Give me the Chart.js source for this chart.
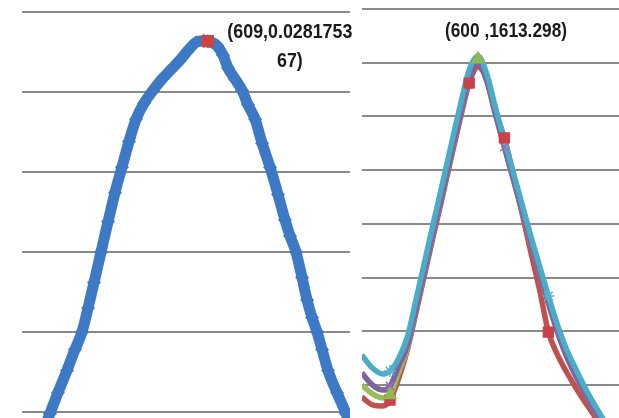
<!DOCTYPE html>
<html>
<head>
<meta charset="utf-8">
<script src="https://cdn.jsdelivr.net/npm/chart.js@4.4.1/dist/chart.umd.min.js"></script>
<style>
html,body{margin:0;background:#fff}
#wrap{position:relative;width:619px;height:418px;overflow:hidden;background:#fff}
canvas{position:absolute;top:0}
#left{left:0}
#right{left:355px}
</style>
</head>
<body>
<div id="wrap">
<canvas id="left" width="355" height="418"></canvas>
<canvas id="right" width="264" height="418"></canvas>
</div>
<script>
// left panel: single measured curve
const blueX=[504.7,507.9,513.0,518.8,523.9,528.4,532.3,536.1,540.6,545.1,549.5,554.0,558.5,563.0,568.1,573.9,579.6,585.4,591.2,596.3,601.4,606.5,609,614.8,618.7,621.9,626.4,630.9,634.7,639.2,643.7,648.8,653.9,658.4,661.6,665.4,669.3,672.5,675.7,678.9,682.1,685.9,691.7,697.4,700.0];
const blueY=[0.0041,0.0049,0.0062,0.0076,0.0089,0.0100,0.0115,0.0131,0.0150,0.0169,0.0187,0.0203,0.0219,0.0233,0.0243,0.0251,0.0258,0.0264,0.0270,0.0276,0.0281,0.0282,0.028175367,0.0279,0.0273,0.0265,0.0258,0.0251,0.0242,0.0233,0.0218,0.0203,0.0186,0.0170,0.0160,0.0150,0.0134,0.0120,0.0109,0.0100,0.0089,0.0076,0.0062,0.0049,0.0042];
const peakX=609, peakY=0.028175367;
const leftTicks=[0.005,0.01,0.015,0.02,0.025,0.03];

// right panel: four runs on a shared x grid
const rightX=[534,540,546,550,555,560,565,570,575,580,585,590,595,600,605,610,615,620,625,630,635,640,645,650,655,660,665,670,675,680];
const cyanY=[512,463,441,452,500,582,724,869,1014,1156,1301,1443,1573,1625,1558,1431,1312,1193,1074,955,843,731,627,538,467,400,340,285,229,173];
const purpleY=[445,400,381,396,471,549,690,836,981,1122,1268,1409,1539,1600,1532,1405,1286,1167,1048,929,817,705,601,512,441,378,318,262,206,150];
const greenY=[400,367,352,363,448,540,690,836,981,1122,1268,1409,1539,1613.298,1532,1405,1286,1167,1048,929,817,705,601,512,441,378,318,262,206,150];
const redY=[355,326,322,344,426,534,676,821,966,1107,1253,1394,1524,1585,1536,1413,1320,1182,1040,895,754,597,515,452,396,344,296,244,195,150];
const rightTicks=[400,600,800,1000,1200,1400,1600,1800];
const peak2X=600, peak2Y=1613.298;

const GRID='#8a8a8a';
const FONT='bold 21px "Liberation Sans",Arial,sans-serif';

// data label beside the marked point, squeezed to a narrow face
const pointLabel={
  id:'pointLabel',
  afterDatasetsDraw(chart,args,o){
    if(!o.lines)return;
    const {ctx,scales:{x,y}}=chart;
    const px=x.getPixelForValue(o.at[0]),py=y.getPixelForValue(o.at[1]);
    ctx.save();
    ctx.font=FONT;
    ctx.fillStyle='#1b1b1b';
    ctx.textAlign='center';
    ctx.textBaseline='middle';
    const sx=o.w/ctx.measureText(o.lines[0]).width;
    o.lines.forEach((t,i)=>{
      ctx.save();
      ctx.translate(px+o.dx,py+o.dy+i*o.lh);
      ctx.scale(sx,1);
      ctx.fillText(t,0,0);
      ctx.restore();
    });
    ctx.restore();
  }
};

function yAxis(min,max,ticks){
  return{
    min,max,
    ticks:{display:false},
    grid:{color:GRID,lineWidth:2,drawTicks:false,tickLength:0},
    border:{display:false},
    afterBuildTicks:a=>{a.ticks=ticks.map(v=>({value:v}))}
  };
}

const base={
  responsive:false,
  animation:false,
  events:[],
  plugins:{legend:{display:false},tooltip:{enabled:false}}
};

const leftLabel=`(${peakX},${peakY})`;
new Chart(document.getElementById('left'),{
  type:'scatter',
  data:{datasets:[
    {data:[{x:peakX,y:peakY}],pointStyle:'rect',pointRadius:8,backgroundColor:'#cc4440',borderColor:'#cc4440'},
    {data:blueX.map((x,i)=>({x,y:blueY[i]})),showLine:true,borderColor:'#3d79c4',borderWidth:11,
     cubicInterpolationMode:'monotone',pointStyle:'rectRot',pointRadius:7,
     backgroundColor:'#3d79c4',pointBorderColor:'#3d79c4',pointBorderWidth:0}
  ]},
  options:{...base,
    layout:{autoPadding:false,padding:{left:22,right:5,top:0,bottom:0}},
    scales:{
      x:{type:'linear',min:490,max:700,display:false},
      y:yAxis(0.004625,0.03075,leftTicks)
    },
    plugins:{...base.plugins,
      pointLabel:{at:[peakX,peakY],lines:[leftLabel.slice(0,14),leftLabel.slice(14)],dx:82,dy:-9,lh:29,w:125}
    }
  },
  plugins:[pointLabel]
});

const line=(ys,color)=>({data:rightX.map((x,i)=>({x,y:ys[i]})),showLine:true,borderColor:color,
  borderWidth:5.5,pointRadius:0,cubicInterpolationMode:'monotone'});
const marks=(ys,idx,style,color,r)=>({data:idx.map(i=>({x:rightX[i],y:ys[i]})),showLine:false,
  pointStyle:style,pointRadius:r,backgroundColor:color,borderColor:color,borderWidth:1.5});

new Chart(document.getElementById('right'),{
  type:'scatter',
  data:{datasets:[
    marks(greenY,[3,13],'triangle','#8fb84e',7),
    marks(redY,[3,12,16,21],'rect','#c8424a',7),
    marks(purpleY,[3,16],'crossRot','#9a6fc0',6),
    marks(cyanY,[3,21],'star','#56b4cf',6),
    line(cyanY,'#4bacc6'),
    line(purpleY,'#8064a2'),
    line(greenY,'#9bbb59'),
    line(redY,'#c0504d')
  ]},
  options:{...base,
    layout:{autoPadding:false,padding:{left:7,right:0,top:0,bottom:0}},
    scales:{
      x:{type:'linear',min:534.1,max:680.1,display:false},
      y:yAxis(277.1,1833.5,rightTicks)
    },
    plugins:{...base.plugins,
      pointLabel:{at:[peak2X,peak2Y],lines:[`(${peak2X} ,${peak2Y})`],dx:28,dy:-28,lh:0,w:122}
    }
  },
  plugins:[pointLabel]
});
</script>
</body>
</html>
